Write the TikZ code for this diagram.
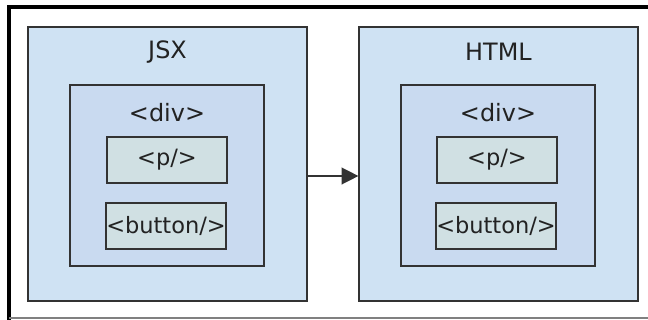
\documentclass[tikz,border=0pt]{standalone}
\usepackage{fontspec}
\setmainfont{DejaVu Sans}
\usetikzlibrary{arrows.meta}

\definecolor{panelblue}{RGB}{207,226,243}
\definecolor{divblue}{RGB}{201,218,240}
\definecolor{leafgray}{RGB}{208,224,227}
\definecolor{edgegray}{RGB}{51,51,51}
\definecolor{inkgray}{RGB}{34,34,34}

\tikzset{
  panel/.style={draw=edgegray, line width=0.8pt, fill=panelblue, minimum width=6.975cm, minimum height=6.85cm, inner sep=0pt},
  divbox/.style={draw=edgegray, line width=0.8pt, fill=divblue, minimum width=4.85cm, minimum height=4.525cm, inner sep=0pt},
  leafbox/.style={draw=edgegray, line width=0.8pt, fill=leafgray, minimum width=3cm, minimum height=1.15cm, inner sep=0pt, text=inkgray, font=\fontsize{16}{19}\selectfont},
  lbl/.style={inner sep=0pt, text=inkgray, font=\fontsize{17}{20}\selectfont}
}

\begin{document}
\begin{tikzpicture}[x=0.025cm, y=-0.025cm]
\useasboundingbox (0,0) rectangle (648,320);
% frame of the screenshot
\draw[black, line width=2.2pt] (9,320) -- (9,7) -- (648,7);
\draw[gray, line width=0.8pt] (9,318) -- (648,318);

% JSX side
\node[panel] (jsx) at (167.5,164) {};
\node[lbl] (jsxtitle) at (167.5,52) {JSX};
\node[divbox] (jsxdiv) at (167,175.5) {};
\node[lbl] (jsxdivtag) at (167,113) {<div>};
\node[leafbox] (jsxp) at (167,160) {<p/>};
\node[leafbox] (jsxbutton) at (166,226) {<button/>};

% HTML side
\node[panel] (html) at (498.5,164) {};
\node[lbl] (htmltitle) at (498.5,52) {HTML};
\node[divbox] (htmldiv) at (498,175.5) {};
\node[lbl] (htmldivtag) at (498,113) {<div>};
\node[leafbox] (htmlp) at (497,160) {<p/>};
\node[leafbox] (htmlbutton) at (496,226) {<button/>};

\draw[-{Triangle[length=0.42cm,width=0.42cm]}, edgegray, line width=1pt] ([yshift=-0.3cm]jsx.east) -- ([yshift=-0.3cm]html.west);

\end{tikzpicture}
\end{document}
